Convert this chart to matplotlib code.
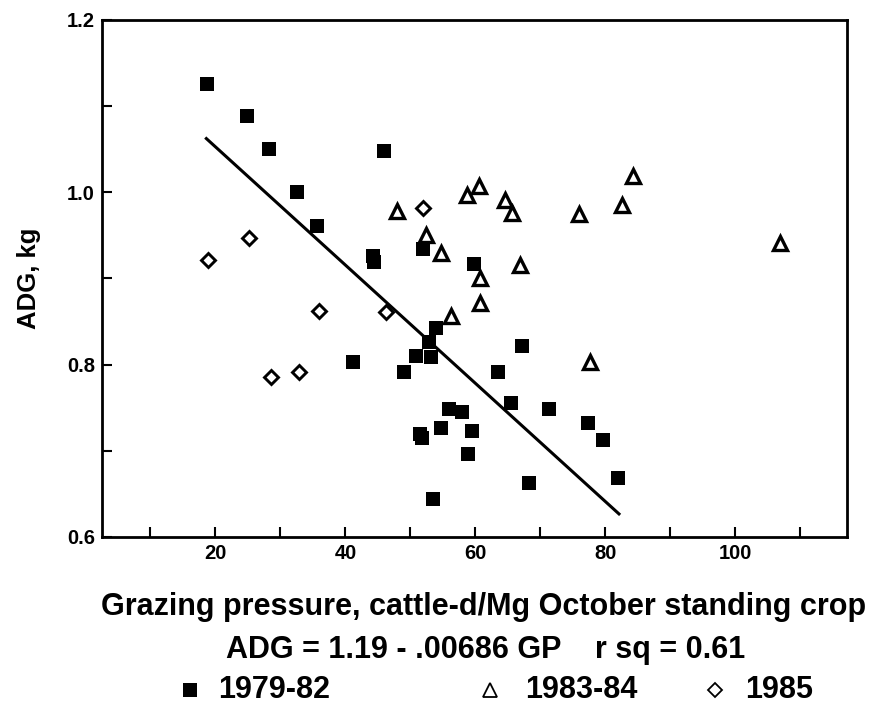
import matplotlib
matplotlib.use("Agg")
import matplotlib.pyplot as plt
from matplotlib.lines import Line2D
import numpy as np

# ----------- DATA -----------------------------------
gp_7982 = [18.7, 24.9, 28.2, 46.0, 32.6, 35.6, 44.3, 44.4, 51.9, 59.8,
           53.9, 52.9, 67.2, 50.8, 53.2, 41.2, 49.0, 63.5, 56.0, 57.9,
           65.5, 71.3, 54.7, 59.5, 51.5, 51.8, 58.8, 77.4, 79.7, 82.0,
           68.2, 53.5]
adg_7982 = [1.126, 1.089, 1.050, 1.048, 1.000, 0.961, 0.926, 0.919, 0.934, 0.917,
            0.843, 0.826, 0.822, 0.810, 0.809, 0.803, 0.792, 0.792, 0.748, 0.745,
            0.755, 0.749, 0.727, 0.723, 0.720, 0.715, 0.696, 0.732, 0.713, 0.669,
            0.663, 0.644]

gp_8384 = [47.9, 52.4, 54.7, 58.7, 60.5, 60.7, 60.7, 64.5, 65.7, 76.0,
           82.6, 84.3, 106.9, 66.9, 56.2, 77.7]
adg_8384 = [0.978, 0.950, 0.930, 0.997, 1.007, 0.900, 0.871, 0.991, 0.976, 0.975,
            0.985, 1.019, 0.941, 0.916, 0.856, 0.803]

gp_85 = [18.9, 25.1, 51.9, 35.9, 46.2, 28.6, 32.8]
adg_85 = [0.921, 0.947, 0.982, 0.862, 0.861, 0.786, 0.791]

# regression ADG = 1.19 - .00686 GP, drawn over the 1979-82 range
intercept = 1.19
slope = -0.00686
gp_fit_range = [18.6, 82.1]

series_labels = ['1979-82', '1983-84', '1985']
x_major = [20, 40, 60, 80, 100]
x_minor = [10, 30, 50, 70, 90, 110]
y_major = [0.6, 0.8, 1.0, 1.2]
y_minor = [0.7, 0.9, 1.1]
# -----------------------------------------------------

plt.rcParams['font.family'] = ['Liberation Sans', 'DejaVu Sans']
plt.rcParams['font.weight'] = 'bold'

W, H = 871, 709
fig = plt.figure(figsize=(W / 100, H / 100), dpi=100)
ax = fig.add_axes([0.1168, 0.2426, 0.8557, 0.7292])

ax.plot(gp_7982, adg_7982, linestyle='none', marker='s', markersize=9.4,
        color='black', markeredgewidth=0)
ax.plot(gp_8384, adg_8384, linestyle='none', marker='^', markersize=10.3,
        markerfacecolor='white', markeredgecolor='black', markeredgewidth=2.4)
ax.plot(gp_85, adg_85, linestyle='none', marker='D', markersize=7.0,
        markerfacecolor='white', markeredgecolor='black', markeredgewidth=2.1)

fit_x = np.array(gp_fit_range)
ax.plot(fit_x, intercept + slope * fit_x, color='black', linewidth=2.2)

ax.set_xlim(2.5, 117.2)
ax.set_ylim(0.6, 1.2)
ax.set_xticks(x_major)
ax.set_xticks(x_minor, minor=True)
ax.set_yticks(y_major)
ax.set_yticks(y_minor, minor=True)
ax.set_xticklabels([str(v) for v in x_major])
ax.set_yticklabels([f"{v:.1f}" for v in y_major])

ax.tick_params(which='both', direction='in', length=7.5, width=1.5,
               top=False, right=False, labelsize=14.5, pad=5)
for lab in ax.get_xticklabels() + ax.get_yticklabels():
    lab.set_fontweight('bold')
for sp in ax.spines.values():
    sp.set_linewidth(2.0)

ax.set_ylabel('ADG, kg', fontsize=18.5, fontweight='bold')
ax.yaxis.set_label_coords(-0.082, 0.5)

fig.text(0.555, 1 - 607 / H, 'Grazing pressure, cattle-d/Mg October standing crop',
         ha='center', va='center', fontsize=22, fontweight='bold')
fig.text(0.557, 1 - 650 / H, 'ADG = 1.19 - .00686 GP    r sq = 0.61',
         ha='center', va='center', fontsize=22, fontweight='bold')

# legend row along the bottom
leg_y = 1 - 690 / H
marker_x = [190 / W, 490 / W, 715 / W]
label_x = [218 / W, 525 / W, 745 / W]
leg_styles = [
    dict(marker='s', markersize=9.5, color='black', markeredgewidth=0),
    dict(marker='^', markersize=10.5, markerfacecolor='white',
         markeredgecolor='black', markeredgewidth=1.3),
    dict(marker='D', markersize=7.5, markerfacecolor='white',
         markeredgecolor='black', markeredgewidth=1.3),
]
for mx, lx, style, lab in zip(marker_x, label_x, leg_styles, series_labels):
    fig.add_artist(Line2D([mx], [leg_y], linestyle='none',
                          transform=fig.transFigure, **style))
    fig.text(lx, leg_y, lab, ha='left', va='center', fontsize=22,
             fontweight='bold')

fig.savefig('out.png', dpi=100)
